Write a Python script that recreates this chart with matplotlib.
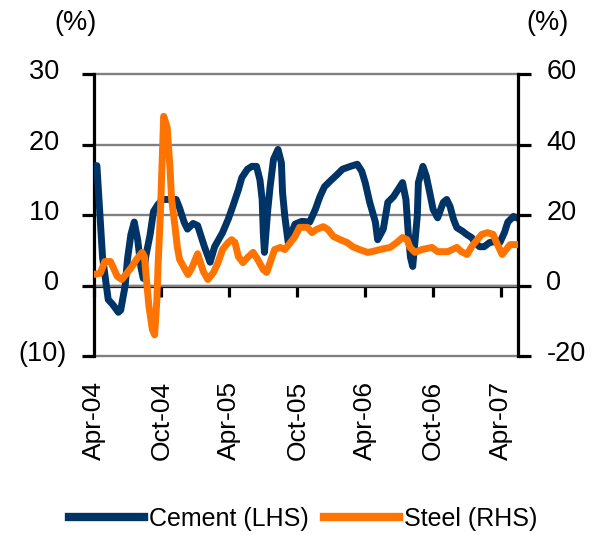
import matplotlib
matplotlib.use("Agg")
import matplotlib.pyplot as plt
import matplotlib.ticker as mticker
import matplotlib.transforms as mtransforms
from matplotlib.lines import Line2D

plt.rcParams['font.family'] = ['Liberation Sans', 'DejaVu Sans']

# ---- data (x = months since Apr-04) ----
cement_months = [0.0, 0.3, 0.8, 1.3, 1.7, 2.2, 2.4, 2.8, 3.0, 3.3, 3.6, 3.9, 4.2, 4.4, 4.6, 5.0, 5.3, 5.7, 6.1, 6.8,
                 7.3, 7.6, 8.0, 8.3, 8.8, 9.2, 9.8, 10.3, 10.7, 11.4, 11.9, 12.3, 12.8, 13.1, 13.6, 14.0, 14.4, 14.7, 14.9, 15.0,
                 15.1, 15.4, 15.6, 15.9, 16.3, 16.6, 16.7, 16.9, 17.2, 17.5, 17.8, 18.4, 19.1, 19.6, 20.0, 20.4, 20.9, 21.5, 22.0, 22.7,
                 23.3, 23.7, 24.0, 24.4, 24.9, 25.1, 25.6, 26.0, 26.5, 26.9, 27.3, 27.6, 27.8, 28.0, 28.2, 28.6, 28.7, 29.1, 29.4, 29.7,
                 30.0, 30.4, 30.9, 31.2, 31.5, 31.8, 32.1, 32.6, 33.0, 33.4, 33.7, 34.1, 34.5, 35.0, 35.4, 35.9, 36.3, 36.6, 37.1, 37.4]
cement = [17, 17, 4, -2, -2.7, -3.8, -3.5, 0, 3.7, 7.2, 9, 6.5, 2.5, 1.0, 4, 7.2, 10.5, 11.5, 12.2, 12.2,
          12.2, 11, 9, 8, 8.8, 8.5, 5.5, 3.3, 5.5, 7.5, 9.4, 11.2, 13.6, 15.3, 16.5, 16.9, 16.9, 15, 12.2, 7.5,
          4.7, 10.8, 14, 17.9, 19.3, 17.4, 13.2, 9.8, 6.1, 7.5, 8.7, 9.1, 9, 10.8, 12.6, 14, 14.8, 15.7, 16.5, 16.9,
          17.2, 16.2, 14.6, 11.8, 9, 6.5, 8, 11.8, 12.6, 13.6, 14.6, 12.2, 7.5, 4, 2.7, 9.8, 14.6, 16.9, 15.5, 13.2,
          10.8, 9.6, 11.8, 12.2, 11.2, 9.4, 8.2, 7.7, 7.2, 6.8, 6.1, 5.5, 5.5, 6.1, 6.2, 6.1, 7.5, 9, 9.8, 9.6]

steel_months = [0.0, 0.6, 1.0, 1.5, 1.7, 2.1, 2.5, 3.0, 3.4, 3.8, 4.3, 4.5, 4.7, 4.9, 5.2, 5.4, 5.6, 5.7, 5.9, 6.05,
                6.2, 6.5, 6.75, 6.9, 7.2, 7.4, 7.6, 8.1, 8.35, 8.7, 9.2, 9.7, 10.1, 10.6, 11.0, 11.4, 11.9, 12.2, 12.5, 12.8,
                13.2, 13.6, 14.1, 14.5, 15.0, 15.3, 15.6, 16.0, 16.5, 16.9, 17.4, 17.8, 18.2, 18.9, 19.3, 19.7, 20.3, 20.7, 21.2, 21.8,
                22.4, 22.9, 23.5, 24.2, 24.6, 25.3, 26.2, 26.8, 27.3, 27.7, 27.96, 28.4, 29.0, 29.9, 30.4, 31.3, 32.1, 32.5, 33.0, 33.4,
                33.9, 34.3, 34.8, 35.3, 35.6, 36.1, 36.3, 36.8, 37.4]
steel = [3.1, 3.5, 6.8, 6.8, 5.4, 2.6, 1.7, 3.7, 5.4, 7.4, 9.4, 8.2, 0.9, -6, -12.5, -14, -4, 5.4, 19.6, 33.8,
         48, 45, 33.8, 24.4, 16.7, 11, 7.4, 4.5, 3.1, 5.1, 9.0, 4, 1.7, 3.7, 6.5, 10.2, 12.2, 13, 12.2, 8.2,
         6.5, 7.9, 9.4, 7.4, 4.5, 3.7, 6.5, 10.2, 10.8, 10.2, 12.2, 13.9, 16.5, 16.5, 15, 15.9, 16.7, 15.9, 13.9, 13,
         12.2, 11, 10.2, 9.4, 9.6, 10.2, 10.8, 12.2, 13.6, 13, 10.8, 9.4, 10.2, 10.8, 9.6, 9.6, 10.8, 9.6, 8.8, 11,
         13, 14.5, 15, 14.5, 12.2, 8.8, 9.6, 11.6, 11.6]

tick_months = [0, 6, 12, 18, 24, 30, 36]
tick_labels = ['Apr-04', 'Oct-04', 'Apr-05', 'Oct-05', 'Apr-06', 'Oct-06', 'Apr-07']
left_ticks = [-10, 0, 10, 20, 30]
right_ticks = [-20, 0, 20, 40, 60]
series_names = ['Cement (LHS)', 'Steel (RHS)']

NAVY = '#003366'
ORANGE = '#FF7300'
GRAY = '#808080'
FS = 19.5
FS_X = 19
FS_LEG = 18
LW = 5.0

fig = plt.figure(figsize=(5.98, 5.35), dpi=100)
ax = fig.add_axes([93.5 / 598, 1 - 356 / 535, (518 - 93.5) / 598, (356 - 74) / 535])

ax.plot(cement_months, cement, color=NAVY, lw=LW, solid_joinstyle='round', zorder=3)
ax.set_xlim(0, 37.5)
ax.set_ylim(-10, 30)
ax.set_yticks(left_ticks)

ax.yaxis.set_major_formatter(mticker.FuncFormatter(
    lambda v, p: f"({-v:.0f})" if v < 0 else f"{v:.0f} "))
ax.yaxis.grid(True, color=GRAY, lw=1.7, zorder=0)
for gl in ax.get_ygridlines():
    gl.set_clip_on(False)

# zero line with tick marks
ax.spines['bottom'].set_position(('data', 0))
ax.spines['bottom'].set_linewidth(2.3)
ax.spines['bottom'].set_zorder(1)
ax.spines['top'].set_visible(False)
ax.spines['right'].set_visible(False)
ax.spines['left'].set_linewidth(2.3)
ax.set_xticks(tick_months)
ax.tick_params(axis='x', direction='out', length=8, width=2.3, labelbottom=False)
ax.tick_params(axis='y', direction='out', length=8.5, width=2.3, pad=11, labelsize=FS)

# x labels at the bottom
sec = ax.secondary_xaxis('bottom')
sec.set_xticks(tick_months, labels=tick_labels)
sec.tick_params(length=0, pad=18, labelsize=FS_X, labelrotation=90)
for s in sec.spines.values():
    s.set_visible(False)

ax2 = ax.twinx()
ax2.plot(steel_months, steel, color=ORANGE, lw=LW, solid_joinstyle='round', zorder=3)
ax2.set_ylim(-20, 60)
ax2.set_yticks(right_ticks)
ax2.yaxis.set_major_formatter(mticker.FuncFormatter(lambda v, p: f"{v:.0f}"))
for k in ['top', 'bottom', 'left']:
    ax2.spines[k].set_visible(False)
ax2.spines['right'].set_linewidth(2.3)
ax2.tick_params(axis='y', direction='out', length=9.5, width=2.3, pad=11, labelsize=FS)

off = mtransforms.ScaledTranslation(0, 0.05, fig.dpi_scale_trans)
for lab in ax.get_yticklabels() + ax2.get_yticklabels():
    lab.set_transform(lab.get_transform() + off)

fig.text(76 / 598, 1 - 23 / 535, '(%)', ha='center', va='center', fontsize=FS)
fig.text(548 / 598, 1 - 23 / 535, '(%)', ha='center', va='center', fontsize=FS)

handles = [Line2D([], [], color=NAVY, lw=6), Line2D([], [], color=ORANGE, lw=6)]
fig.legend(handles, series_names, loc='center', bbox_to_anchor=(303 / 598, 1 - 519 / 535),
           ncol=2, frameon=False, fontsize=FS_LEG, handlelength=3.0, handletextpad=0.2,
           columnspacing=0.6, borderpad=0, borderaxespad=0)

fig.savefig('out.png', dpi=100)
